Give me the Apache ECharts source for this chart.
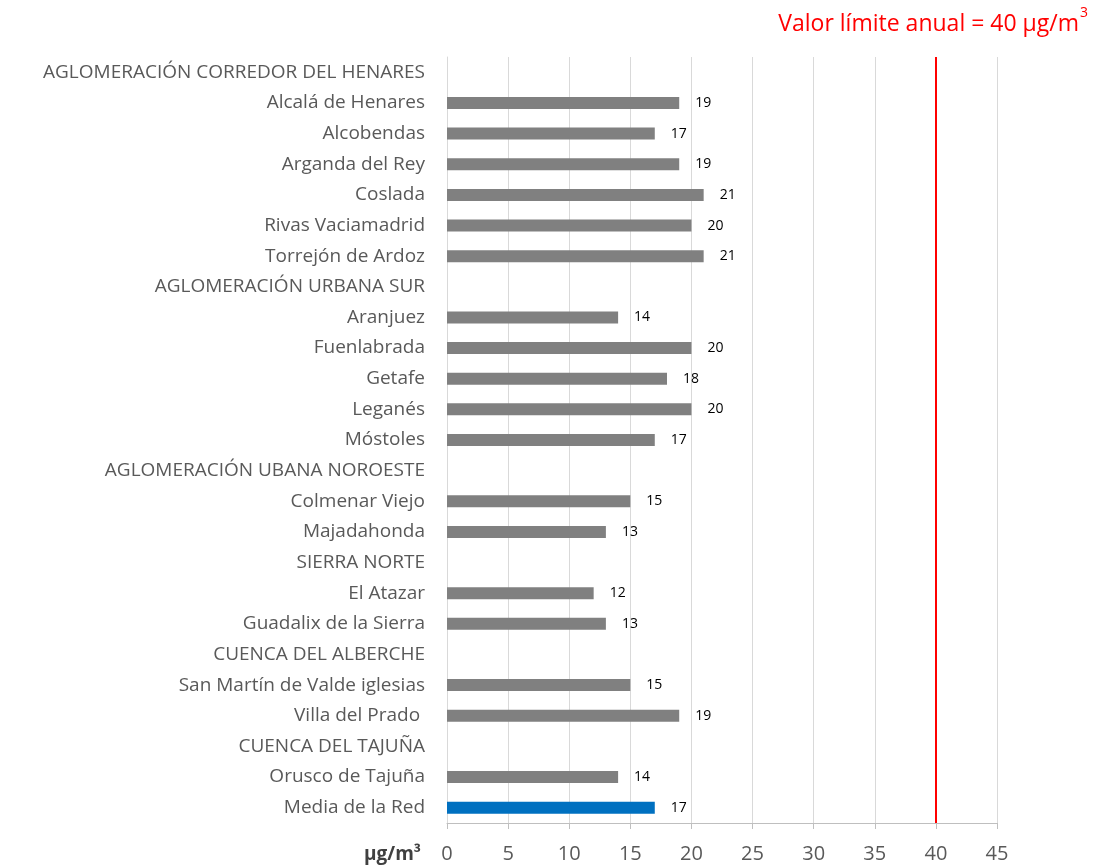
<!DOCTYPE html>
<html>
<head>
<meta charset="utf-8">
<script src="https://cdn.jsdelivr.net/npm/echarts@6/dist/echarts.min.js"></script>
<style>
	html, body { margin: 0; padding: 0; background: #fff; }
	#chart { width: 1099px; height: 867px; }
</style>
</head>
<body>
<div id="chart"></div>
<script>
// categorias (cabeceras de zona sin valor)
var categories = [
	'AGLOMERACIÓN CORREDOR DEL HENARES',
	'Alcalá de Henares', 'Alcobendas', 'Arganda del Rey', 'Coslada', 'Rivas Vaciamadrid', 'Torrejón de Ardoz',
	'AGLOMERACIÓN URBANA SUR',
	'Aranjuez', 'Fuenlabrada', 'Getafe', 'Leganés', 'Móstoles',
	'AGLOMERACIÓN UBANA NOROESTE',
	'Colmenar Viejo', 'Majadahonda',
	'SIERRA NORTE',
	'El Atazar', 'Guadalix de la Sierra',
	'CUENCA DEL ALBERCHE',
	'San Martín de Valde iglesias', 'Villa del Prado ',
	'CUENCA DEL TAJUÑA',
	'Orusco de Tajuña',
	'Media de la Red'
];
var values = [
	null,
	19, 17, 19, 21, 20, 21,
	null,
	14, 20, 18, 20, 17,
	null,
	15, 13,
	null,
	12, 13,
	null,
	15, 19,
	null,
	14,
	17
];
var xTicks = [0, 5, 10, 15, 20, 25, 30, 35, 40, 45];
var limitValue = 40;

var FONT = '"Open Sans", sans-serif';

var barData = values.map(function (v, i) {
	return {
		value: v,
		itemStyle: { color: categories[i] === 'Media de la Red' ? '#0070C0' : '#808080' }
	};
});

var myChart = echarts.init(document.getElementById('chart'));
myChart.setOption({
	animation: false,
	textStyle: { fontFamily: FONT },
	grid: { left: 447, right: 102, top: 57, bottom: 44 },
	graphic: [
		{
			type: 'text', right: 20, top: 13,
			style: { text: 'Valor límite anual = 40 µg/m', fill: '#FF0000', font: '23px ' + FONT }
		},
		{
			type: 'text', right: 11, top: 6,
			style: { text: '3', fill: '#FF0000', font: '14px ' + FONT }
		},
		{
			type: 'text', left: 364, top: 845,
			style: { text: 'µg/m³', fill: '#404040', font: 'bold 19px ' + FONT }
		}
	],
	xAxis: {
		type: 'value',
		min: xTicks[0],
		max: xTicks[xTicks.length - 1],
		interval: 5,
		axisLine: { show: true, lineStyle: { color: '#BFBFBF' } },
		axisTick: { show: true, length: 6, lineStyle: { color: '#BFBFBF' } },
		axisLabel: { color: '#595959', fontSize: 20, margin: 21 },
		splitLine: { show: true, lineStyle: { color: '#D9D9D9' } }
	},
	yAxis: {
		type: 'category',
		inverse: true,
		data: categories,
		axisLine: { show: true, lineStyle: { color: '#D9D9D9' } },
		axisTick: { show: false },
		axisLabel: { color: '#595959', fontSize: 19, margin: 22 }
	},
	series: [{
		type: 'bar',
		data: barData,
		barWidth: 12,
		label: {
			show: true,
			position: 'right',
			distance: 16,
			color: '#000',
			fontSize: 14
		},
		markLine: {
			symbol: 'none',
			silent: true,
			label: { show: false },
			lineStyle: { color: '#FF0000', width: 2, type: 'solid' },
			data: [{ xAxis: limitValue }]
		}
	}]
});
</script>
</body>
</html>
